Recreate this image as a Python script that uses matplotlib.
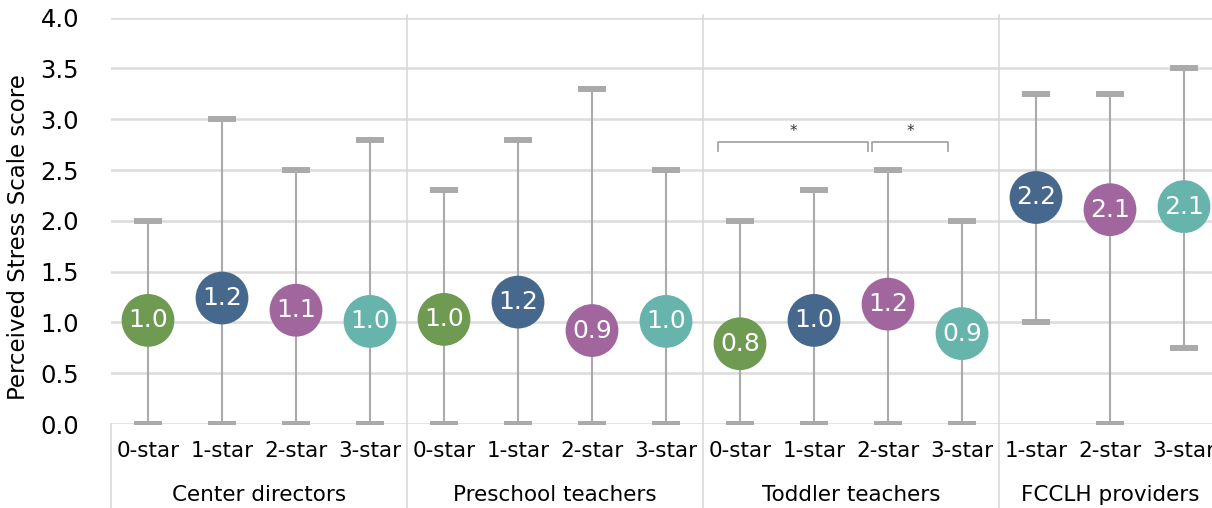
import matplotlib
matplotlib.use("Agg")
import matplotlib.pyplot as plt
import matplotlib.transforms as mtransforms
import numpy as np

plt.rcParams["font.family"] = ["DejaVu Sans"]

# Groups and star ratings
groups = ["Center directors", "Preschool teachers", "Toddler teachers", "FCCLH providers"]
group_stars = [
    ["0-star", "1-star", "2-star", "3-star"],
    ["0-star", "1-star", "2-star", "3-star"],
    ["0-star", "1-star", "2-star", "3-star"],
    ["1-star", "2-star", "3-star"],
]

# Mean Perceived Stress Scale score per group / rating
means = [1.02, 1.24, 1.12, 1.01,
         1.03, 1.20, 0.92, 1.01,
         0.79, 1.02, 1.18, 0.89,
         2.23, 2.11, 2.14]
# Observed range (min, max)
mins = [0.0, 0.0, 0.0, 0.0,
        0.0, 0.0, 0.0, 0.0,
        0.0, 0.0, 0.0, 0.0,
        1.0, 0.0, 0.75]
maxs = [2.0, 3.0, 2.5, 2.8,
        2.3, 2.8, 3.3, 2.5,
        2.0, 2.3, 2.5, 2.0,
        3.25, 3.25, 3.5]

star_colors = {"0-star": "#6f9a52", "1-star": "#46688d",
               "2-star": "#a2669f", "3-star": "#67b4ac"}

# Significant pairwise differences: (group, star a, star b, left trim, right trim)
sig_pairs = [("Toddler teachers", "0-star", "2-star", -0.30, -0.27),
             ("Toddler teachers", "2-star", "3-star", -0.21, -0.19)]

W, H = 1212, 508
fig = plt.figure(figsize=(W / 100, H / 100), dpi=100)
ax_left, ax_right = 111, 1221
ax_top, ax_bottom = 17.7, 424
ax = fig.add_axes([ax_left / W, (H - ax_bottom) / H,
                   (ax_right - ax_left) / W, (ax_bottom - ax_top) / H])

labels = [s for st in group_stars for s in st]
n = len(labels)
x = np.arange(n)
means_a = np.array(means)
lo = means_a - np.array(mins)
hi = np.array(maxs) - means_a

eb = ax.errorbar(x, means_a, yerr=[lo, hi], fmt="none", ecolor="#aaaaaa",
                 elinewidth=1.5, capsize=10, capthick=4.3, zorder=3)
for cap in eb[1]:
    cap.set_color("#999999")

colors = [star_colors[s] for s in labels]
ax.scatter(x, means_a, s=38 ** 2, c=colors, edgecolors="none", zorder=4)
for xi, m in zip(x, means):
    ax.text(xi, m, f"{m:.1f}", ha="center", va="center", color="white",
            fontsize=18, zorder=5)

ax.set_xlim(-0.5, n - 0.5)
ax.set_ylim(0, 4)
yt = np.arange(0, 4.01, 0.5)
ax.set_yticks(yt)
ax.set_yticklabels([f"{v:.1f}" for v in yt], fontsize=17.5)
ax.tick_params(axis="y", length=0, pad=23)
ax.set_xticks([])
for sp in ax.spines.values():
    sp.set_visible(False)
ax.yaxis.grid(True, color="#dcdcdc", linewidth=1.8, zorder=0)
ax.set_axisbelow(True)
ax.set_ylabel("Perceived Stress Scale score", fontsize=16.5)
ax.yaxis.set_label_coords(-0.073, 0.459)

trans = mtransforms.blended_transform_factory(ax.transData, ax.transAxes)
px = 1.0 / (ax_bottom - ax_top)

# Category and group labels, group separators
idx = {}
start = 0
for g, st in zip(groups, group_stars):
    for k, s in enumerate(st):
        idx[(g, s)] = start + k
        ax.text(start + k, -27 * px, s, transform=trans, ha="center",
                va="center", fontsize=15.5, clip_on=False)
    ax.text(start + (len(st) - 1) / 2, -71 * px, g, transform=trans,
            ha="center", va="center", fontsize=15.5, clip_on=False)
    start += len(st)

bounds = np.cumsum([len(st) for st in group_stars])[:-1] - 0.5
for b in bounds:
    ax.plot([b, b], [-84 * px, 1 + 3 * px], transform=trans, color="#d9d9d9",
            linewidth=1.2, clip_on=False, zorder=1)
ax.plot([-0.5, -0.5], [-84 * px, 0], transform=trans, color="#d9d9d9",
        linewidth=1.2, clip_on=False, zorder=1)

# Significance brackets
y_top, y_end = 2.78, 2.69
for g, a, b, da, db in sig_pairs:
    xa = idx[(g, a)] + da
    xb = idx[(g, b)] + db
    ax.plot([xa, xa, xb, xb], [y_end, y_top, y_top, y_end], color="#a6a6a6",
            linewidth=1.3, zorder=2)
    ax.text((xa + xb) / 2, y_top + 0.03, "*", ha="center", va="bottom",
            fontsize=11, color="#333333")

fig.savefig("out.png", dpi=100)
